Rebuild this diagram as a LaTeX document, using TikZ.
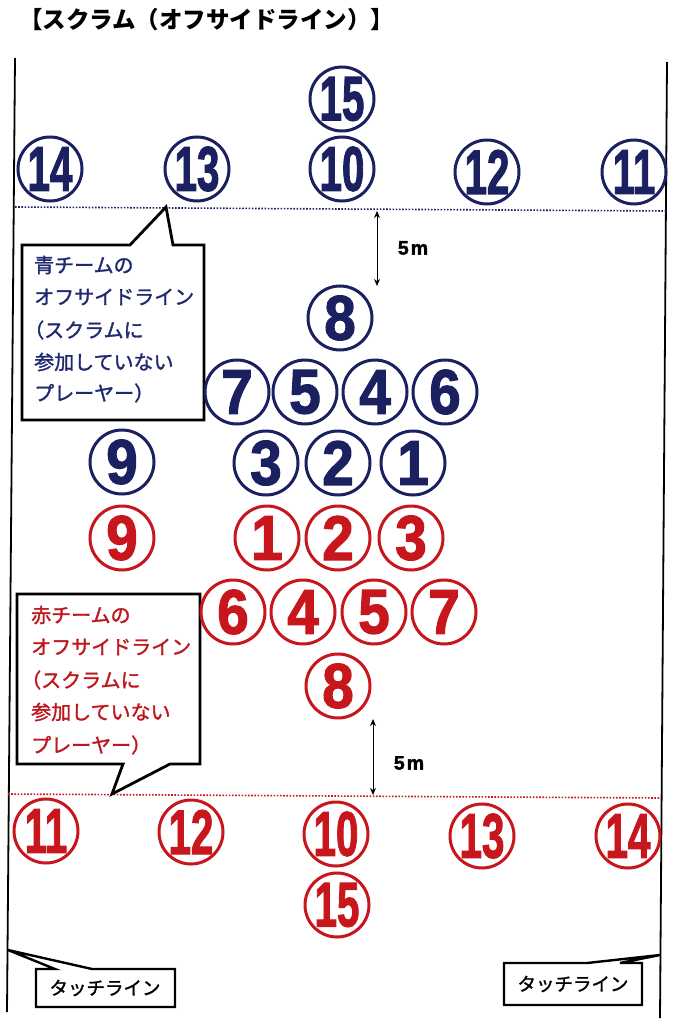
\documentclass[tikz,border=0pt]{standalone}
\usepackage{fontspec}
\usepackage{graphicx}
\newfontfamily\jp{Noto Sans CJK JP}
\newfontfamily\jpm{Noto Sans CJK JP}[FakeBold=1.5]
\newfontfamily\numf{Liberation Sans}[BoldFeatures={FakeBold=2}]
\usetikzlibrary{arrows.meta}
\definecolor{navy}{HTML}{1B2060}
\definecolor{rd}{HTML}{C8161D}
\definecolor{bluetxt}{HTML}{1F2A6E}
\definecolor{redtxt}{HTML}{C0161D}
\newcommand{\oned}[1]{{\numf\bfseries\fontsize{63}{63}\selectfont\scalebox{0.9}[1]{#1}}}
\newcommand{\twod}[1]{{\numf\bfseries\fontsize{63}{63}\selectfont\scalebox{0.64}[1]{#1}}}
\tikzset{
  pl/.style={circle, draw, line width=3pt, minimum size=64pt, inner sep=0pt, outer sep=0pt},
  bp/.style={pl, draw=navy, text=navy},
  rp/.style={pl, draw=rd, text=rd},
  sideline/.style={line width=1.8pt, black},
  offb/.style={navy, line width=1.6pt, dash pattern=on 1.6pt off 1.6pt},
  offr/.style={rd, line width=1.6pt, dash pattern=on 1.6pt off 1.6pt},
  callout/.style={draw=black, fill=white, line width=2.8pt, line join=miter},
  ctext/.style={anchor=west, inner sep=0pt, font=\jpm\fontsize{20}{20}\selectfont},
  ttext/.style={inner sep=0pt, font=\jpm\fontsize{18.5}{18.5}\selectfont},
  fivem/.style={{Stealth[length=7pt,width=6pt]}-{Stealth[length=7pt,width=6pt]}, line width=1pt},
  mtext/.style={inner sep=0pt, font=\numf\bfseries\fontsize{19.5}{19.5}\selectfont}
}
\begin{document}
\begin{tikzpicture}[x=1pt, y=-1pt]
\useasboundingbox (0,0) rectangle (677,1024);
\fill[white] (0,0) rectangle (677,1024);

% title
\node[anchor=west, inner sep=0pt, font=\jp\bfseries\fontsize{23.5}{23.5}\selectfont] (title) at (19,20) {【スクラム（オフサイドライン）】};

% touch lines
\coordinate (lt) at (15,58);
\coordinate (lb) at (7,1012);
\coordinate (rt) at (667,62);
\coordinate (rb) at (660,1018);
\draw[sideline] (lt) -- (lb);
\draw[sideline] (rt) -- (rb);

% offside lines
\coordinate (ob1) at (15,207);
\coordinate (ob2) at (667,211);
\draw[offb] (ob1) -- (ob2);
\coordinate (or1) at (8,794);
\coordinate (or2) at (660,798);
\draw[offr] (or1) -- (or2);

% blue callout
\draw[callout] (22,245) -- (130,245) -- (166,207) -- (173,245) -- (204,245) -- (204,420) -- (22,420) -- cycle;
\node[ctext, text=bluetxt] (bt1) at (34,265) {青チームの};
\node[ctext, text=bluetxt] (bt2) at (34,297) {オフサイドライン};
\node[ctext, text=bluetxt] (bt3) at (24,330) {（スクラムに};
\node[ctext, text=bluetxt] (bt4) at (34,362) {参加していない};
\node[ctext, text=bluetxt] (bt5) at (34,393) {プレーヤー）};

% red callout
\draw[callout] (17,594) -- (200,594) -- (200,764) -- (170,764) -- (112,794) -- (123,764) -- (17,764) -- cycle;
\node[ctext, text=redtxt] (rt1) at (31,615) {赤チームの};
\node[ctext, text=redtxt] (rt2) at (31,647) {オフサイドライン};
\node[ctext, text=redtxt] (rt3) at (21,680) {（スクラムに};
\node[ctext, text=redtxt] (rt4) at (31,712) {参加していない};
\node[ctext, text=redtxt] (rt5) at (31,745) {プレーヤー）};

% 5m arrows
\coordinate (a1t) at (377,211);
\coordinate (a1b) at (377,286);
\draw[fivem] (a1t) -- (a1b);
\node[mtext] (m1) at (413,248) {5\kern2pt m};
\coordinate (a2t) at (373,719);
\coordinate (a2b) at (373,795);
\draw[fivem] (a2t) -- (a2b);
\node[mtext] (m2) at (409,763) {5\kern2pt m};

% blue team
\node[bp] (b15) at (342,99) {\twod{15}};
\node[bp] (b14) at (50,169) {\twod{14}};
\node[bp] (b13) at (197,169) {\twod{13}};
\node[bp] (b10) at (342,169) {\twod{10}};
\node[bp] (b12) at (487,172) {\twod{12}};
\node[bp] (b11) at (634,172) {\twod{11}};
\node[bp] (b8) at (340,318) {\oned{8}};
\node[bp] (b7) at (237,392) {\oned{7}};
\node[bp] (b5) at (305,392) {\oned{5}};
\node[bp] (b4) at (375,392) {\oned{4}};
\node[bp] (b6) at (445,392) {\oned{6}};
\node[bp] (b9) at (122,462) {\oned{9}};
\node[bp] (b3) at (266,463) {\oned{3}};
\node[bp] (b2) at (338,463) {\oned{2}};
\node[bp] (b1) at (413,463) {\oned{1}};

% red team
\node[rp] (r9) at (122,538) {\oned{9}};
\node[rp] (r1) at (267,538) {\oned{1}};
\node[rp] (r2) at (338,538) {\oned{2}};
\node[rp] (r3) at (411,538) {\oned{3}};
\node[rp] (r6) at (233,612) {\oned{6}};
\node[rp] (r4) at (303,612) {\oned{4}};
\node[rp] (r5) at (374,612) {\oned{5}};
\node[rp] (r7) at (444,612) {\oned{7}};
\node[rp] (r8) at (338,686) {\oned{8}};
\node[rp] (r11) at (46,831) {\twod{11}};
\node[rp] (r12) at (191,832) {\twod{12}};
\node[rp] (r10) at (336,834) {\twod{10}};
\node[rp] (r13) at (482,836) {\twod{13}};
\node[rp] (r14) at (628,836) {\twod{14}};
\node[rp] (r15) at (337,905) {\twod{15}};

% touch line callouts
\draw[callout, line width=2.4pt] (36,969) -- (55,969) -- (8,950) -- (92,969) -- (175,969) -- (175,1007) -- (36,1007) -- cycle;
\node[ttext] (tl1) at (105,988) {タッチライン};
\draw[callout, line width=2.4pt] (504,963) -- (587,963) -- (660,955) -- (620,963) -- (642,963) -- (642,1005) -- (504,1005) -- cycle;
\node[ttext] (tl2) at (573,984) {タッチライン};
\end{tikzpicture}
\end{document}
